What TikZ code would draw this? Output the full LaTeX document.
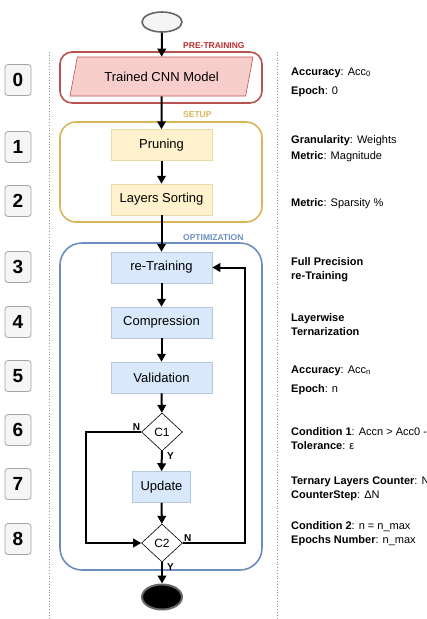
\documentclass[tikz,border=0pt]{standalone}
\usepackage{fontspec}
\setmainfont{Liberation Sans}
\usetikzlibrary{arrows.meta,positioning,calc,shapes.geometric}
\definecolor{myRed}{RGB}{184,84,80}
\definecolor{myTagRed}{RGB}{190,45,45}
\definecolor{myPink}{RGB}{248,206,204}
\definecolor{myGold}{RGB}{214,182,86}
\definecolor{myCream}{RGB}{255,242,204}
\definecolor{myBlue}{RGB}{108,142,191}
\definecolor{myLightBlue}{RGB}{218,232,252}
\definecolor{myGray}{RGB}{102,102,102}
\definecolor{myPaper}{RGB}{245,245,245}
\tikzset{
	group/.style={draw, line width=1.6pt, minimum width=202pt},
	tag/.style={anchor=west, font=\bfseries\fontsize{8.5}{10}\selectfont, inner sep=0pt},
	sbox/.style={
		rectangle,
		align=center,
		minimum width=101pt,
		minimum height=31pt,
		inner sep=2pt,
		line width=0.5pt,
		font=\fontsize{13}{15}\selectfont
	},
	cond/.style={diamond, draw, fill=white, line width=0.6pt, minimum width=41pt, minimum height=38pt, inner sep=0pt, font=\fontsize{12}{14}\selectfont},
	numbox/.style={draw=myGray!60, fill=myPaper, line width=0.8pt, rounded corners=3pt, minimum width=26pt, minimum height=31pt, inner sep=0pt, font=\bfseries\fontsize{19}{21}\selectfont},
	info/.style={anchor=west, align=left, inner sep=0pt, font=\fontsize{11}{14}\selectfont},
	yn/.style={font=\bfseries\fontsize{10}{11}\selectfont, inner sep=1pt},
	sarr/.style={-{Triangle[length=8pt,width=8.5pt]}, line width=2pt}
}

\begin{document}
\begin{tikzpicture}[x=1pt, y=-1pt]
	\useasboundingbox (0,0) rectangle (427,619);
	\draw[myGray!70, dotted, line width=0.8pt] (49,52) -- (49,619);
	\draw[myGray!70, dotted, line width=0.8pt] (277,52) -- (277,619);
	\foreach \i/\y in {0/80,1/147,2/201,3/267,4/322,5/376,6/430,7/484,8/539}
		\node[numbox] (num\i) at (18,\y) {\i};
	\node[group, draw=myRed, rounded corners=12pt, minimum height=51pt] (pretrain) at (161,77.5) {};
	\node[group, draw=myGold, rounded corners=16pt, minimum height=100pt] (setup) at (161,172) {};
	\node[group, draw=myBlue, rounded corners=22pt, minimum height=327pt] (optim) at (161,406.5) {};
	\node[tag, text=myTagRed] (tagpre) at (183,46) {PRE-TRAINING};
	\node[tag, text=myGold] (tagsetup) at (183,115) {SETUP};
	\node[tag, text=myBlue] (tagopt) at (183,238) {OPTIMIZATION};
	\node[ellipse, draw=myGray, fill=myPaper, line width=1.6pt, minimum width=40pt, minimum height=20pt] (start) at (162,22) {};
	\node[trapezium, trapezium left angle=72, trapezium right angle=108, trapezium stretches=true, draw=myRed, fill=myPink, line width=0.6pt, minimum width=183pt, minimum height=39pt, font=\fontsize{13}{15}\selectfont] (cnn) at (161.5,76.5) {Trained CNN Model};
	\node[sbox, draw=myGold!50, fill=myCream] (prune) at (161.5,145) {Pruning};
	\node[sbox, draw=myGold!50, fill=myCream] (sortl) at (161.5,199.5) {Layers Sorting};
	\node[sbox, draw=myBlue!50, fill=myLightBlue] (retrain) at (161.5,267.5) {re-Training};
	\node[sbox, draw=myBlue!50, fill=myLightBlue] (compress) at (161.5,322.5) {Compression};
	\node[sbox, draw=myBlue!50, fill=myLightBlue] (valid) at (161.5,377.5) {Validation};
	\node[cond] (condA) at (162,432) {C1};
	\node[sbox, draw=myBlue!50, fill=myLightBlue, minimum width=58pt] (update) at (161.5,487) {Update};
	\node[cond] (condB) at (162,543) {C2};
	\node[ellipse, draw=myGray, fill=black, line width=2pt, minimum width=40pt, minimum height=25pt] (stop) at (162,597) {};
	\draw[sarr] (start) -- (cnn);
	\draw[sarr] (cnn) -- (prune);
	\draw[sarr] (prune) -- (sortl);
	\draw[sarr] (sortl) -- (retrain);
	\draw[sarr] (retrain) -- (compress);
	\draw[sarr] (compress) -- (valid);
	\draw[sarr] (valid) -- (condA);
	\draw[sarr] (condA) -- (update);
	\draw[sarr] (update) -- (condB);
	\draw[sarr] (condB) -- (stop);
	\draw[sarr] (condA.west) -- ++(-55,0) |- (condB.west);
	\draw[sarr] (condB.east) -- ++(62,0) |- (retrain.east);
	\node[yn, above left] (noA) at (condA.west) {N};
	\node[yn, below right] (yesA) at ([xshift=4pt]condA.south) {Y};
	\node[yn, above right] (noB) at (condB.east) {N};
	\node[yn, below right] (yesB) at ([xshift=4pt]condB.south) {Y};
	\node[info] (info0) at (291,82) {\textbf{Accuracy}: Acc\textsubscript{0}\\[5pt]\textbf{Epoch}: 0};
	\node[info] (info1) at (291,149) {\textbf{Granularity}: Weights\\[2pt]\textbf{Metric}: Magnitude};
	\node[info] (info2) at (291,204) {\textbf{Metric}: Sparsity \%};
	\node[info] (info3) at (291,270) {\textbf{Full Precision}\\\textbf{re-Training}};
	\node[info] (info4) at (291,325) {\textbf{Layerwise}\\\textbf{Ternarization}};
	\node[info] (info5) at (291,380) {\textbf{Accuracy}: Acc\textsubscript{n}\\[5pt]\textbf{Epoch}: n};
	\node[info] (info6) at (291,439) {\textbf{Condition 1}: Accn > Acc0 -\\\textbf{Tolerance}: ε};
	\node[info] (info7) at (291,489) {\textbf{Ternary Layers Counter}: N\\\textbf{CounterStep}: ΔN};
	\node[info] (info8) at (291,534) {\textbf{Condition 2}: n = n\_max\\\textbf{Epochs Number}: n\_max};
\end{tikzpicture}
\end{document}
